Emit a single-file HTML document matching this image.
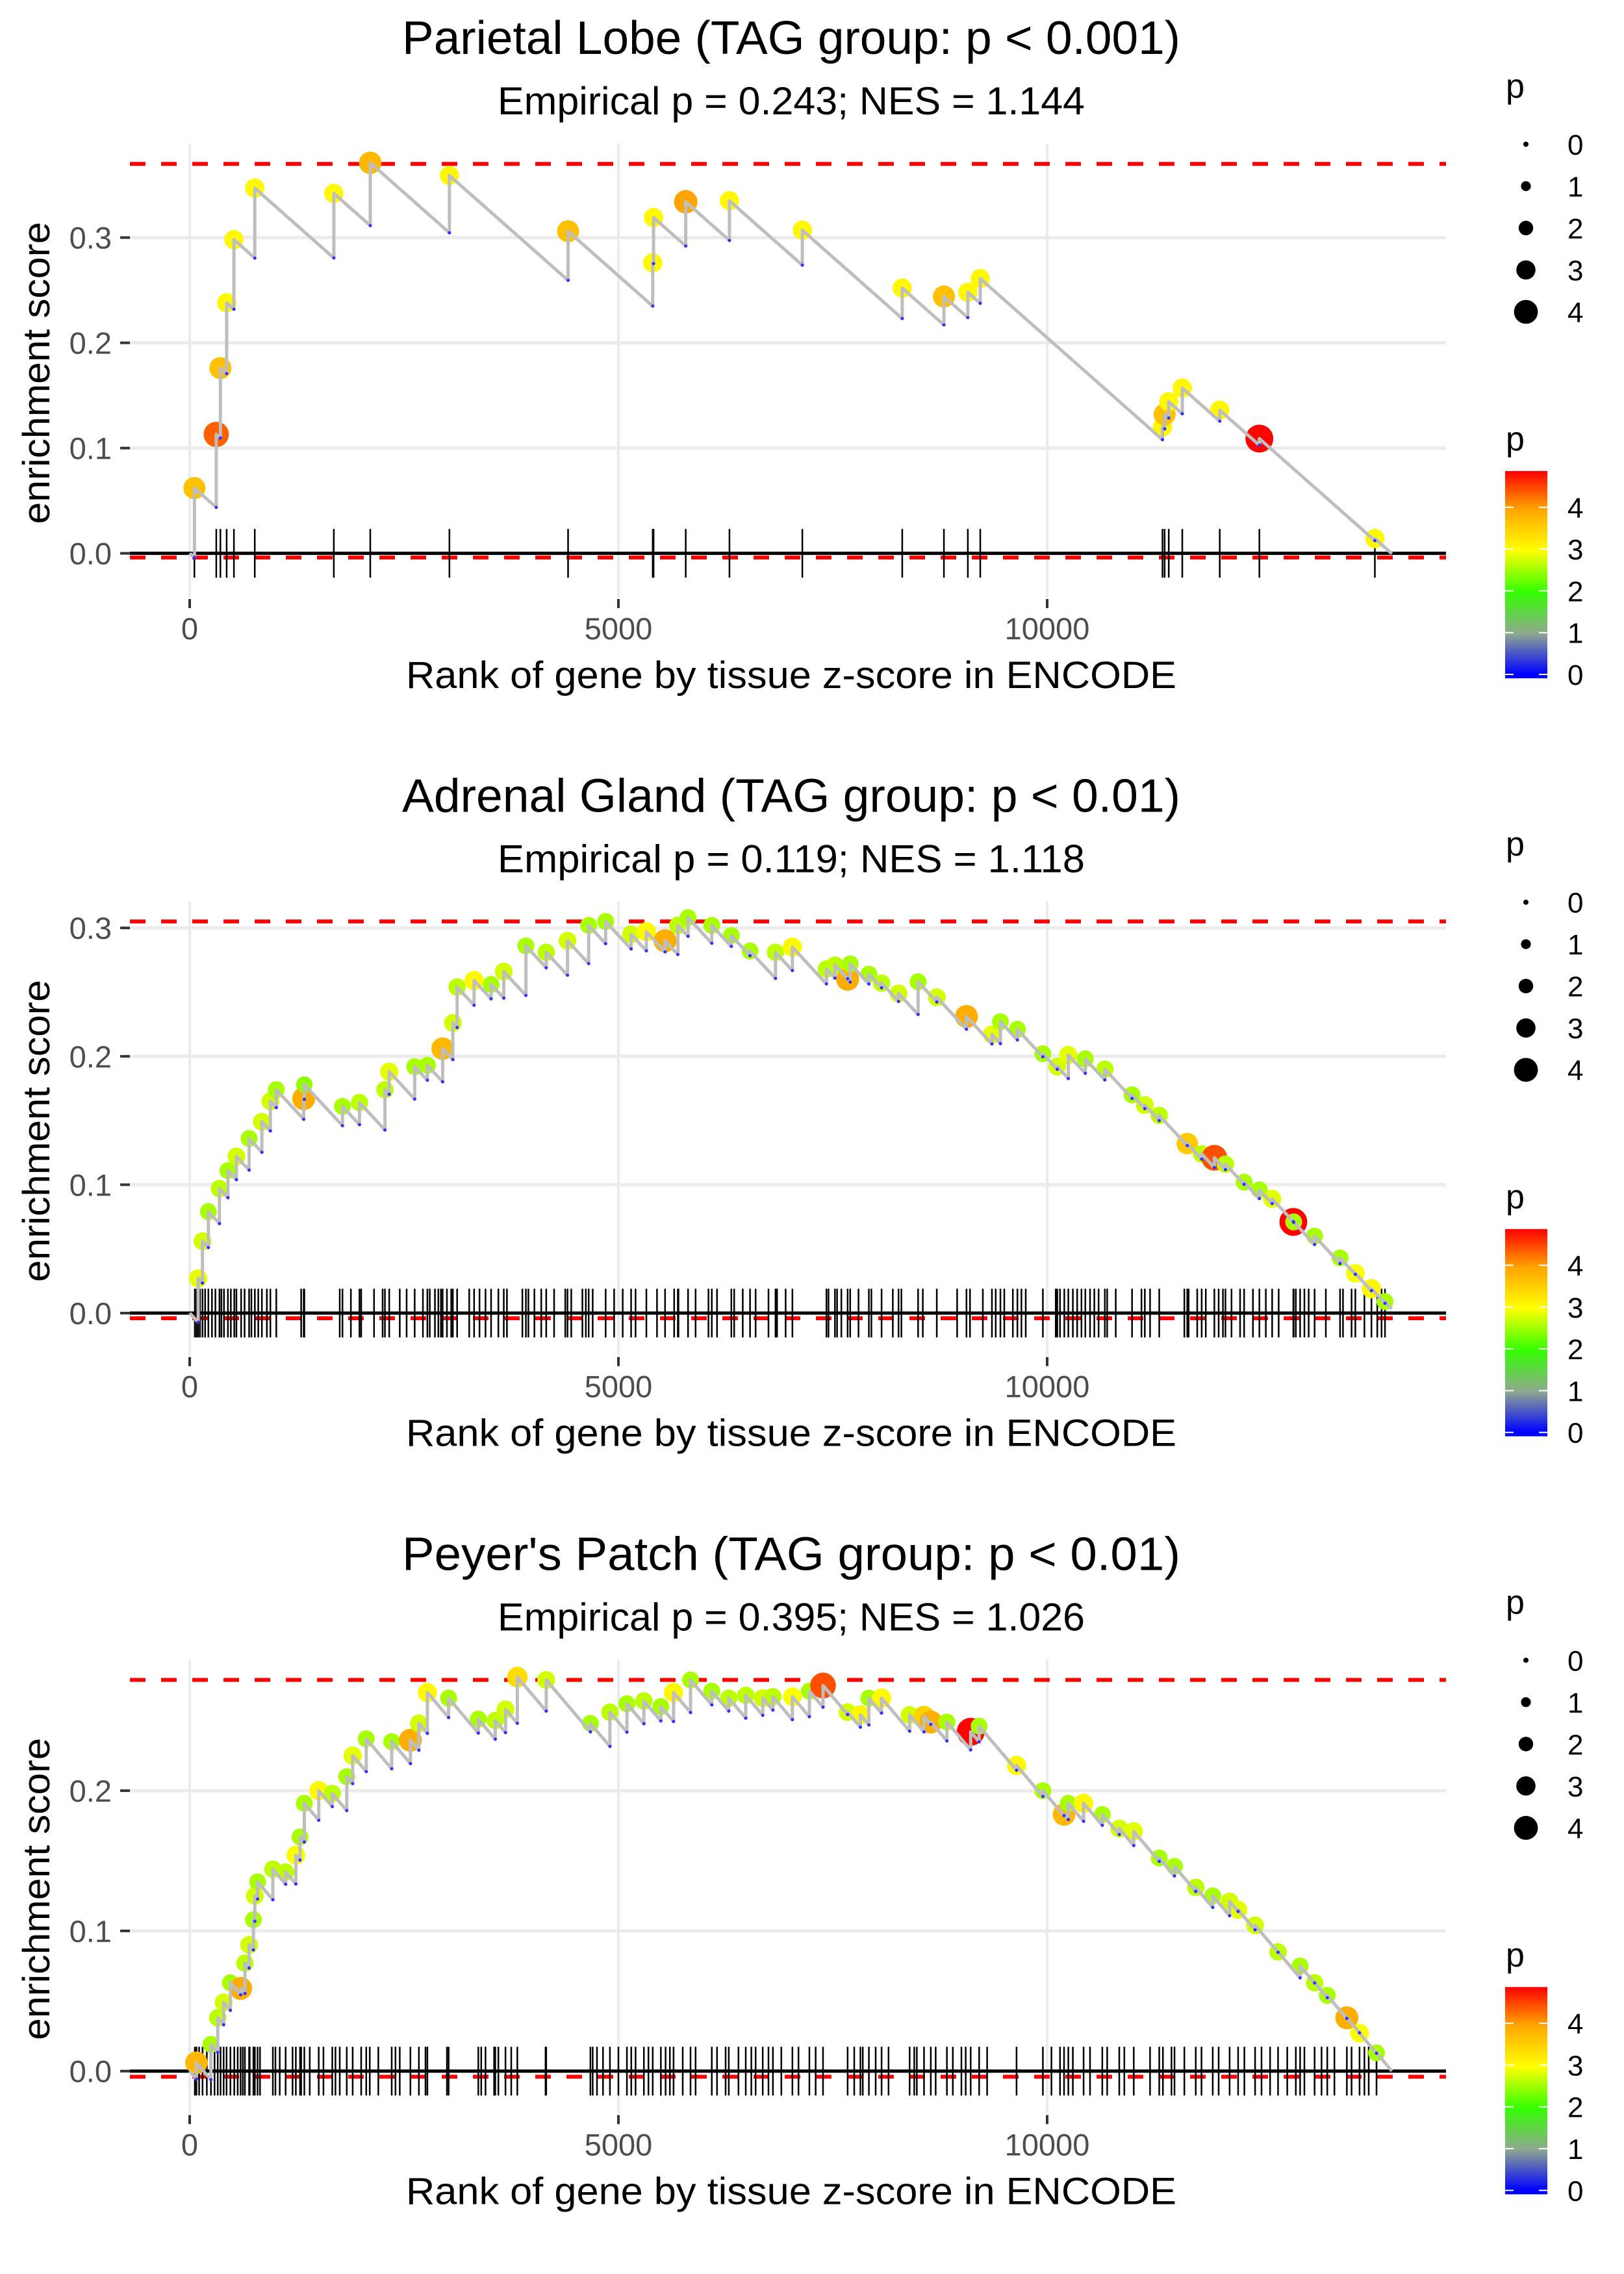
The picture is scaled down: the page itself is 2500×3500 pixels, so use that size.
<!DOCTYPE html>
<html><head><meta charset="utf-8"><title>Enrichment plots</title>
<style>html,body{margin:0;padding:0;background:#fff}svg{display:block}text{font-family:"Liberation Sans",sans-serif}</style>
</head><body>
<svg id="fig" xmlns="http://www.w3.org/2000/svg" width="2500" height="3500" viewBox="0 0 2500 3500">
<defs>
<linearGradient id="pgrad" x1="0" y1="1" x2="0" y2="0">
<stop offset="0.02" stop-color="#0000ff"/><stop offset="0.216" stop-color="#8fa88f"/><stop offset="0.416" stop-color="#33ff00"/><stop offset="0.616" stop-color="#ffff00"/><stop offset="0.816" stop-color="#ffa500"/><stop offset="1" stop-color="#ff0000"/>
</linearGradient>
</defs>
</svg>
<script>
// ---------- data ----------
const panelTitles = ["Parietal Lobe (TAG group: p < 0.001)", "Adrenal Gland (TAG group: p < 0.01)", "Peyer's Patch (TAG group: p < 0.01)"];
const panelSubtitles = ["Empirical p = 0.243; NES = 1.144", "Empirical p = 0.119; NES = 1.118", "Empirical p = 0.395; NES = 1.026"];
const xTicks = [0, 5000, 10000];
const xTickLabels = ["0", "5000", "10000"];
const yTicks1 = [0, 0.1, 0.2, 0.3];
const yTicks2 = [0, 0.1, 0.2, 0.3];
const yTicks3 = [0, 0.1, 0.2];
const yTickLabels1 = ["0.0", "0.1", "0.2", "0.3"];
const yTickLabels2 = ["0.0", "0.1", "0.2", "0.3"];
const yTickLabels3 = ["0.0", "0.1", "0.2"];
const esMax = [0.370, 0.305, 0.279];
const esMin = [-0.004, -0.004, -0.004];
const yLo = [-0.0422, -0.0332, -0.0304];
const yHi = [0.3893, 0.3205, 0.2935];
const totalGenes = 14020;
const declineRate = 0.000072;

const p1Ranks = [55, 310, 358, 431, 516, 759, 1681, 2106, 3029, 4413, 5400, 5410, 5785, 6295, 7145, 8310, 8796, 9075, 9220, 11345, 11370, 11418, 11576, 12013, 12475, 13822];
const p1ES = [0.062, 0.113, 0.176, 0.238, 0.298, 0.347, 0.342, 0.371, 0.359, 0.306, 0.276, 0.319, 0.334, 0.335, 0.307, 0.252, 0.244, 0.248, 0.261, 0.120, 0.132, 0.144, 0.157, 0.136, 0.109, 0.014];
const p1P = [3.6, 4.3, 3.6, 3.0, 3.0, 3.0, 3.0, 3.7, 3.0, 3.6, 3.0, 3.0, 3.9, 3.0, 3.0, 3.0, 3.6, 3.0, 3.0, 3.0, 3.6, 3.0, 3.0, 3.0, 4.85, 3.0];
const p1ExtraRug = [];

const p2Ranks = [99, 149, 218, 347, 446, 545, 693, 842, 941, 1010, 1330, 1337, 1782, 1980, 2277, 2327, 2624, 2772, 2950, 3069, 3119, 3317, 3515, 3663, 3921, 4158, 4406, 4653, 4851, 5148, 5326, 5544, 5693, 5812, 6089, 6317, 6535, 6832, 7029, 7426, 7525, 7673, 7703, 7921, 8069, 8267, 8495, 8713, 9059, 9356, 9455, 9653, 9950, 10118, 10247, 10445, 10673, 10990, 11139, 11307, 11634, 11802, 11950, 12079, 12297, 12475, 12624, 12871, 12875, 13119, 13416, 13594, 13782, 13940];
const p2ES = [0.027, 0.056, 0.079, 0.097, 0.111, 0.122, 0.136, 0.149, 0.165, 0.174, 0.167, 0.178, 0.161, 0.164, 0.174, 0.188, 0.192, 0.193, 0.206, 0.226, 0.254, 0.259, 0.256, 0.266, 0.286, 0.281, 0.290, 0.302, 0.305, 0.295, 0.297, 0.290, 0.302, 0.308, 0.302, 0.294, 0.282, 0.281, 0.285, 0.268, 0.271, 0.260, 0.272, 0.264, 0.257, 0.249, 0.258, 0.246, 0.231, 0.217, 0.227, 0.221, 0.202, 0.192, 0.201, 0.198, 0.190, 0.170, 0.162, 0.154, 0.132, 0.124, 0.121, 0.116, 0.102, 0.096, 0.089, 0.071, 0.071, 0.060, 0.043, 0.031, 0.019, 0.009];
const p2P = [2.8, 2.7, 2.5, 2.6, 2.5, 2.7, 2.5, 2.7, 2.7, 2.5, 3.8, 2.4, 2.5, 2.6, 2.6, 2.8, 2.5, 2.5, 3.7, 2.7, 2.6, 3.0, 2.5, 2.7, 2.5, 2.6, 2.7, 2.5, 2.5, 2.7, 3.0, 3.8, 2.6, 2.5, 2.5, 2.5, 2.5, 2.6, 3.0, 2.6, 2.6, 3.8, 2.5, 2.5, 2.6, 2.7, 2.5, 2.7, 3.8, 2.8, 2.5, 2.5, 2.5, 2.7, 2.8, 2.5, 2.6, 2.5, 2.7, 2.6, 3.5, 2.6, 4.4, 2.6, 2.5, 2.5, 2.8, 4.85, 2.5, 2.5, 2.5, 2.9, 3.0, 2.5];
const p2ExtraRug = [60, 80, 120, 180, 260, 300, 370, 400, 480, 520, 600, 640, 720, 760, 800, 900, 1300, 1750, 1880, 2000, 2150, 2250, 2450, 2530, 2720, 2800, 2860, 2900, 2930, 3000, 3050, 3260, 3380, 3450, 3600, 3700, 3880, 3950, 4020, 4100, 4250, 4380, 4450, 4580, 4620, 4700, 4950, 5050, 5200, 5450, 5650, 5700, 5900, 6050, 6150, 6350, 6450, 6600, 6750, 6850, 6950, 7450, 7550, 7600, 7800, 7950, 8200, 8300, 8550, 8950, 9100, 9250, 9400, 9500, 9600, 9700, 9750, 10100, 10150, 10200, 10300, 10350, 10400, 10500, 10550, 10600, 10700, 10800, 11100, 11200, 11600, 11650, 11750, 11850, 12000, 12050, 12150, 12250, 12400, 12550, 12700, 12900, 12950, 13000, 13050, 13250, 13450, 13550, 13700, 13850, 13900];

const p3Ranks = [79, 248, 327, 396, 475, 594, 644, 693, 743, 760, 792, 970, 1119, 1238, 1287, 1337, 1505, 1663, 1832, 1901, 2059, 2356, 2574, 2673, 2772, 3020, 3366, 3564, 3683, 3821, 4158, 4673, 4901, 5099, 5297, 5495, 5643, 5841, 6089, 6287, 6485, 6683, 6802, 7029, 7227, 7386, 7673, 7822, 7921, 8069, 8396, 8564, 8643, 8831, 9108, 9207, 9643, 9950, 10197, 10247, 10425, 10643, 10841, 11010, 11307, 11485, 11733, 11931, 12128, 12227, 12425, 12693, 12950, 13119, 13267, 13495, 13643, 13841];
const p3ES = [0.006, 0.019, 0.038, 0.049, 0.063, 0.059, 0.077, 0.090, 0.108, 0.125, 0.135, 0.144, 0.142, 0.154, 0.167, 0.191, 0.200, 0.198, 0.210, 0.225, 0.237, 0.235, 0.236, 0.248, 0.270, 0.266, 0.251, 0.250, 0.258, 0.281, 0.279, 0.248, 0.256, 0.262, 0.264, 0.260, 0.270, 0.279, 0.271, 0.266, 0.268, 0.266, 0.267, 0.267, 0.271, 0.275, 0.256, 0.254, 0.266, 0.266, 0.254, 0.253, 0.249, 0.249, 0.242, 0.246, 0.218, 0.200, 0.183, 0.191, 0.191, 0.183, 0.173, 0.171, 0.152, 0.146, 0.131, 0.125, 0.121, 0.115, 0.104, 0.085, 0.075, 0.063, 0.054, 0.038, 0.027, 0.013];
const p3P = [3.7, 2.5, 2.6, 2.7, 2.5, 3.8, 2.6, 2.7, 2.5, 2.7, 2.5, 2.6, 2.6, 2.9, 2.5, 2.5, 3.0, 2.6, 2.5, 2.8, 2.5, 2.5, 3.8, 2.7, 3.0, 2.5, 2.5, 2.6, 2.7, 3.3, 2.7, 2.5, 2.6, 2.5, 2.6, 2.5, 3.0, 2.5, 2.5, 2.6, 2.6, 2.7, 2.6, 2.9, 2.5, 4.4, 2.7, 3.0, 2.5, 3.0, 2.7, 3.4, 3.8, 2.5, 4.85, 2.5, 3.0, 2.5, 3.7, 2.5, 3.0, 2.5, 2.7, 2.8, 2.5, 2.5, 2.6, 2.5, 2.7, 2.8, 2.7, 2.6, 2.5, 2.6, 2.5, 3.8, 2.9, 2.5];
const p3ExtraRug = [60, 110, 150, 200, 290, 360, 430, 520, 560, 620, 700, 820, 1000, 1050, 1200, 1300, 1400, 1560, 1700, 1750, 2000, 2100, 2200, 2400, 2450, 2750, 3000, 3400, 3450, 3550, 3600, 3750, 4150, 4700, 4750, 4820, 5000, 5150, 5200, 5350, 5400, 5550, 5600, 5750, 5900, 6150, 6250, 6400, 6550, 6600, 6750, 6900, 7100, 7300, 7750, 7850, 8000, 8150, 8450, 8480, 8700, 8900, 9000, 9050, 9300, 10050, 10150, 10300, 10500, 10700, 10900, 11200, 11350, 11450, 11600, 11800, 12000, 12300, 12500, 12600, 12800, 12900, 13000, 13200, 13350, 13550, 13700, 13750];

const legendSizes = [0, 1, 2, 3, 4];
const colorbarTicks = [0, 1, 2, 3, 4];

// ---------- helpers ----------
const NS = "http://www.w3.org/2000/svg";
const svg = document.getElementById("fig");
const PANEL_H = 3500 / 3;
const PL = 200, PR = 2226, PT = 221, PB = 920;
function xScale(r) { return 292 + r * 0.1320; }
function makeY(i) { return v => PB - (v - yLo[i]) / (yHi[i] - yLo[i]) * (PB - PT); }
function mk(tag, attrs, parent) {
  const e = document.createElementNS(NS, tag);
  for (const k in attrs) e.setAttribute(k, attrs[k]);
  parent.appendChild(e);
  return e;
}
const cStops = [0, 0.974, 1.948, 2.922, 3.896, 4.87];
const cCols = [[0,0,255],[143,168,143],[51,255,0],[255,255,0],[255,165,0],[255,0,0]];
function pColor(p) {
  if (p <= 0) return "rgb(0,0,255)";
  for (let k = 1; k < cStops.length; k++) {
    if (p <= cStops[k] || k === cStops.length - 1) {
      const t = Math.min(1, (p - cStops[k-1]) / (cStops[k] - cStops[k-1]));
      const c = cCols[k-1].map((a, j) => Math.round(a + (cCols[k][j] - a) * t));
      return "rgb(" + c.join(",") + ")";
    }
  }
}
function pRadius(p) { return 4 + 3.6 * p; }

const allRanks = [p1Ranks, p2Ranks, p3Ranks];
const allES = [p1ES, p2ES, p3ES];
const allP = [p1P, p2P, p3P];
const allExtra = [p1ExtraRug, p2ExtraRug, p3ExtraRug];
const allYTicks = [yTicks1, yTicks2, yTicks3];
const allYLabels = [yTickLabels1, yTickLabels2, yTickLabels3];

for (let i = 0; i < 3; i++) {
  const y = makeY(i);
  const g = mk("g", {transform: "translate(0," + (i * PANEL_H).toFixed(2) + ")"}, svg);
  
  

  const t = mk("text", {x: 1218, y: 83, "font-size": 72, "text-anchor": "middle", fill: "#000", textLength: 1198, lengthAdjust: "spacingAndGlyphs"}, g);
  t.textContent = panelTitles[i];
  
  
  const st = mk("text", {x: 1218, y: 176, "font-size": 60, "text-anchor": "middle", fill: "#000", textLength: 904, lengthAdjust: "spacingAndGlyphs"}, g);
  st.textContent = panelSubtitles[i];
  
  

  allYTicks[i].forEach((v, k) => {
    const gl = mk("line", {x1: PL, x2: PR, y1: y(v), y2: y(v), stroke: "#ebebeb", "stroke-width": 5}, g);
    
    
    const tk = mk("line", {x1: 185, x2: 200, y1: y(v), y2: y(v), stroke: "#333", "stroke-width": 4}, g);
    
    
    const tl = mk("text", {x: 172, y: y(v) + 17, "font-size": 47, "text-anchor": "end", fill: "#4d4d4d"}, g);
    tl.textContent = allYLabels[i][k];
    
    
  });
  xTicks.forEach((v, k) => {
    const gl = mk("line", {x1: xScale(v), x2: xScale(v), y1: PT, y2: PB, stroke: "#ebebeb", "stroke-width": 4}, g);
    
    
    const tk = mk("line", {x1: xScale(v), x2: xScale(v), y1: 922, y2: 936, stroke: "#333", "stroke-width": 4}, g);
    
    
    const tl = mk("text", {x: xScale(v), y: 984, "font-size": 47, "text-anchor": "middle", fill: "#4d4d4d"}, g);
    tl.textContent = xTickLabels[k];
    
    
  });

  const xt = mk("text", {x: 1218, y: 1059, "font-size": 58, "text-anchor": "middle", fill: "#000", textLength: 1186, lengthAdjust: "spacingAndGlyphs"}, g);
  xt.textContent = "Rank of gene by tissue z-score in ENCODE";
  
  
  const yt = mk("text", {x: 0, y: 0, "font-size": 58, "text-anchor": "middle", fill: "#000", transform: "translate(76,574) rotate(-90)", textLength: 465, lengthAdjust: "spacingAndGlyphs"}, g);
  yt.textContent = "enrichment score";
  
  

  const dmax = mk("line", {x1: PL, x2: PR, y1: y(esMax[i]), y2: y(esMax[i]), stroke: "#ff0000", "stroke-width": 6, "stroke-dasharray": "24 24"}, g);
  
  
  const dmin = mk("line", {x1: PL, x2: PR, y1: y(esMin[i]), y2: y(esMin[i]), stroke: "#ff0000", "stroke-width": 6, "stroke-dasharray": "24 24"}, g);
  
  
  const zl = mk("line", {x1: PL, x2: PR, y1: y(0), y2: y(0), stroke: "#000", "stroke-width": 5}, g);
  
  

  const ranks = allRanks[i], es = allES[i], ps = allP[i];
  const rugAll = ranks.concat(allExtra[i]);
  rugAll.forEach(r => {
    const rl = mk("line", {x1: xScale(r), x2: xScale(r), y1: y(0) - 37.5, y2: y(0) + 37.5, stroke: "#000", "stroke-width": 2.5}, g);
    
    
  });

  ranks.forEach((r, k) => {
    const c = mk("circle", {cx: xScale(r), cy: y(es[k]), r: pRadius(ps[k]), fill: pColor(ps[k])}, g);
    
    
  });

  let pts = [[0, 0]];
  let prevR = 0, prevE = 0;
  const bottoms = [];
  ranks.forEach((r, k) => {
    const before = prevE - declineRate * (r - prevR);
    pts.push([r, before]);
    bottoms.push([r, before]);
    pts.push([r, es[k]]);
    prevR = r; prevE = es[k];
  });
  pts.push([totalGenes, prevE - declineRate * (totalGenes - prevR)]);
  const d = pts.map((p, k) => (k ? "L" : "M") + xScale(p[0]).toFixed(1) + "," + y(p[1]).toFixed(1)).join("");
  const path = mk("path", {d: d, fill: "none", stroke: "#bebebe", "stroke-width": 5, "stroke-linejoin": "round"}, g);
  
  
  bottoms.forEach(b => {
    const bd = mk("circle", {cx: xScale(b[0]), cy: y(b[1]), r: 2.5, fill: "#3030ff"}, g);
    
    
  });

  const lg = mk("g", {}, g);
  
  
  const lt = mk("text", {x: 2318, y: 150, "font-size": 52, fill: "#000"}, lg);
  lt.textContent = "p";
  
  
  legendSizes.forEach((s, k) => {
    const cy = 222 + k * 64.5;
    const c = mk("circle", {cx: 2349, cy: cy, r: pRadius(s), fill: "#000"}, lg);
    
    
    const tl = mk("text", {x: 2413, y: cy + 16, "font-size": 44, fill: "#000"}, lg);
    tl.textContent = String(s);
    
    
  });

  const cg = mk("g", {}, g);
  
  
  const ct = mk("text", {x: 2318, y: 693, "font-size": 52, fill: "#000"}, cg);
  ct.textContent = "p";
  
  
  const bar = mk("rect", {x: 2317, y: 725, width: 65, height: 319, fill: "url(#pgrad)"}, cg);
  
  
  colorbarTicks.forEach(v => {
    const cy = 1038 - v * 64.3;
    mk("line", {x1: 2317, x2: 2330, y1: cy, y2: cy, stroke: "#fff", "stroke-width": 2}, cg);
    mk("line", {x1: 2369, x2: 2382, y1: cy, y2: cy, stroke: "#fff", "stroke-width": 2}, cg);
    const tl = mk("text", {x: 2413, y: cy + 16, "font-size": 44, fill: "#000"}, cg);
    tl.textContent = String(v);
    
    
  });
}
</script>
</body></html>
